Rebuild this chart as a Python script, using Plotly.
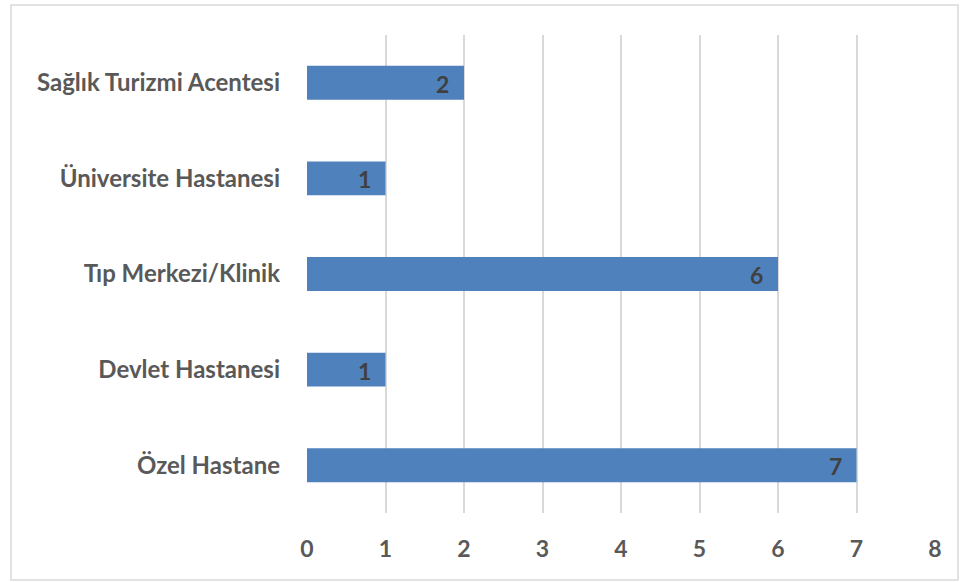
import plotly.graph_objects as go

categories = ["Özel Hastane", "Devlet Hastanesi", "Tıp Merkezi/Klinik", "Üniversite Hastanesi", "Sağlık Turizmi Acentesi"]
values = [7, 1, 6, 1, 2]
x_ticks = [0, 1, 2, 3, 4, 5, 6, 7, 8]

W, H = 963, 582
L, R, T, B = 307, 28, 35, 69
pw, ph = W - L - R, H - T - B

def px_to_paper_x(px):
    return (px - L) / pw

def px_to_paper_y(py):
    return (H - B - py) / ph

fig = go.Figure()
fig.add_trace(go.Bar(
    y=categories, x=values, orientation="h",
    marker=dict(color="#4F81BD", line=dict(width=0)),
    width=0.355, hoverinfo="x+y",
))

for c, v in zip(categories, values):
    fig.add_annotation(x=v, y=c, xref="x", yref="y", text=str(v), showarrow=False,
                       xanchor="right", yanchor="middle", xshift=-13, yshift=-1,
                       font=dict(family="Lato", size=23, color="#404040", weight="bold"))

fig.update_layout(
    width=W, height=H,
    margin=dict(l=L, r=R, t=T, b=B),
    paper_bgcolor="white", plot_bgcolor="white",
    showlegend=False,
    xaxis=dict(range=[0, 8], tickvals=x_ticks, showgrid=True, gridcolor="#D9D9D9", gridwidth=1.5,
               zeroline=False, showline=False, ticks="", ticklabelstandoff=20,
               tickfont=dict(family="Lato", size=23, color="#595959", weight="bold")),
    yaxis=dict(showgrid=False, zeroline=False, showline=False, ticks="", ticklabelstandoff=26,
               range=[-0.5, 4.5],
               tickfont=dict(family="Lato", size=24, color="#595959", weight="bold")),
    shapes=[dict(type="rect", xref="paper", yref="paper",
                 x0=px_to_paper_x(11), x1=px_to_paper_x(958),
                 y0=px_to_paper_y(580), y1=px_to_paper_y(5),
                 line=dict(color="#D9D9D9", width=1.5), fillcolor="rgba(0,0,0,0)", layer="below")],
)

fig.write_html("out.html", config={"displayModeBar": False},
               post_script="document.body.style.margin='0';document.body.style.overflow='hidden';")
